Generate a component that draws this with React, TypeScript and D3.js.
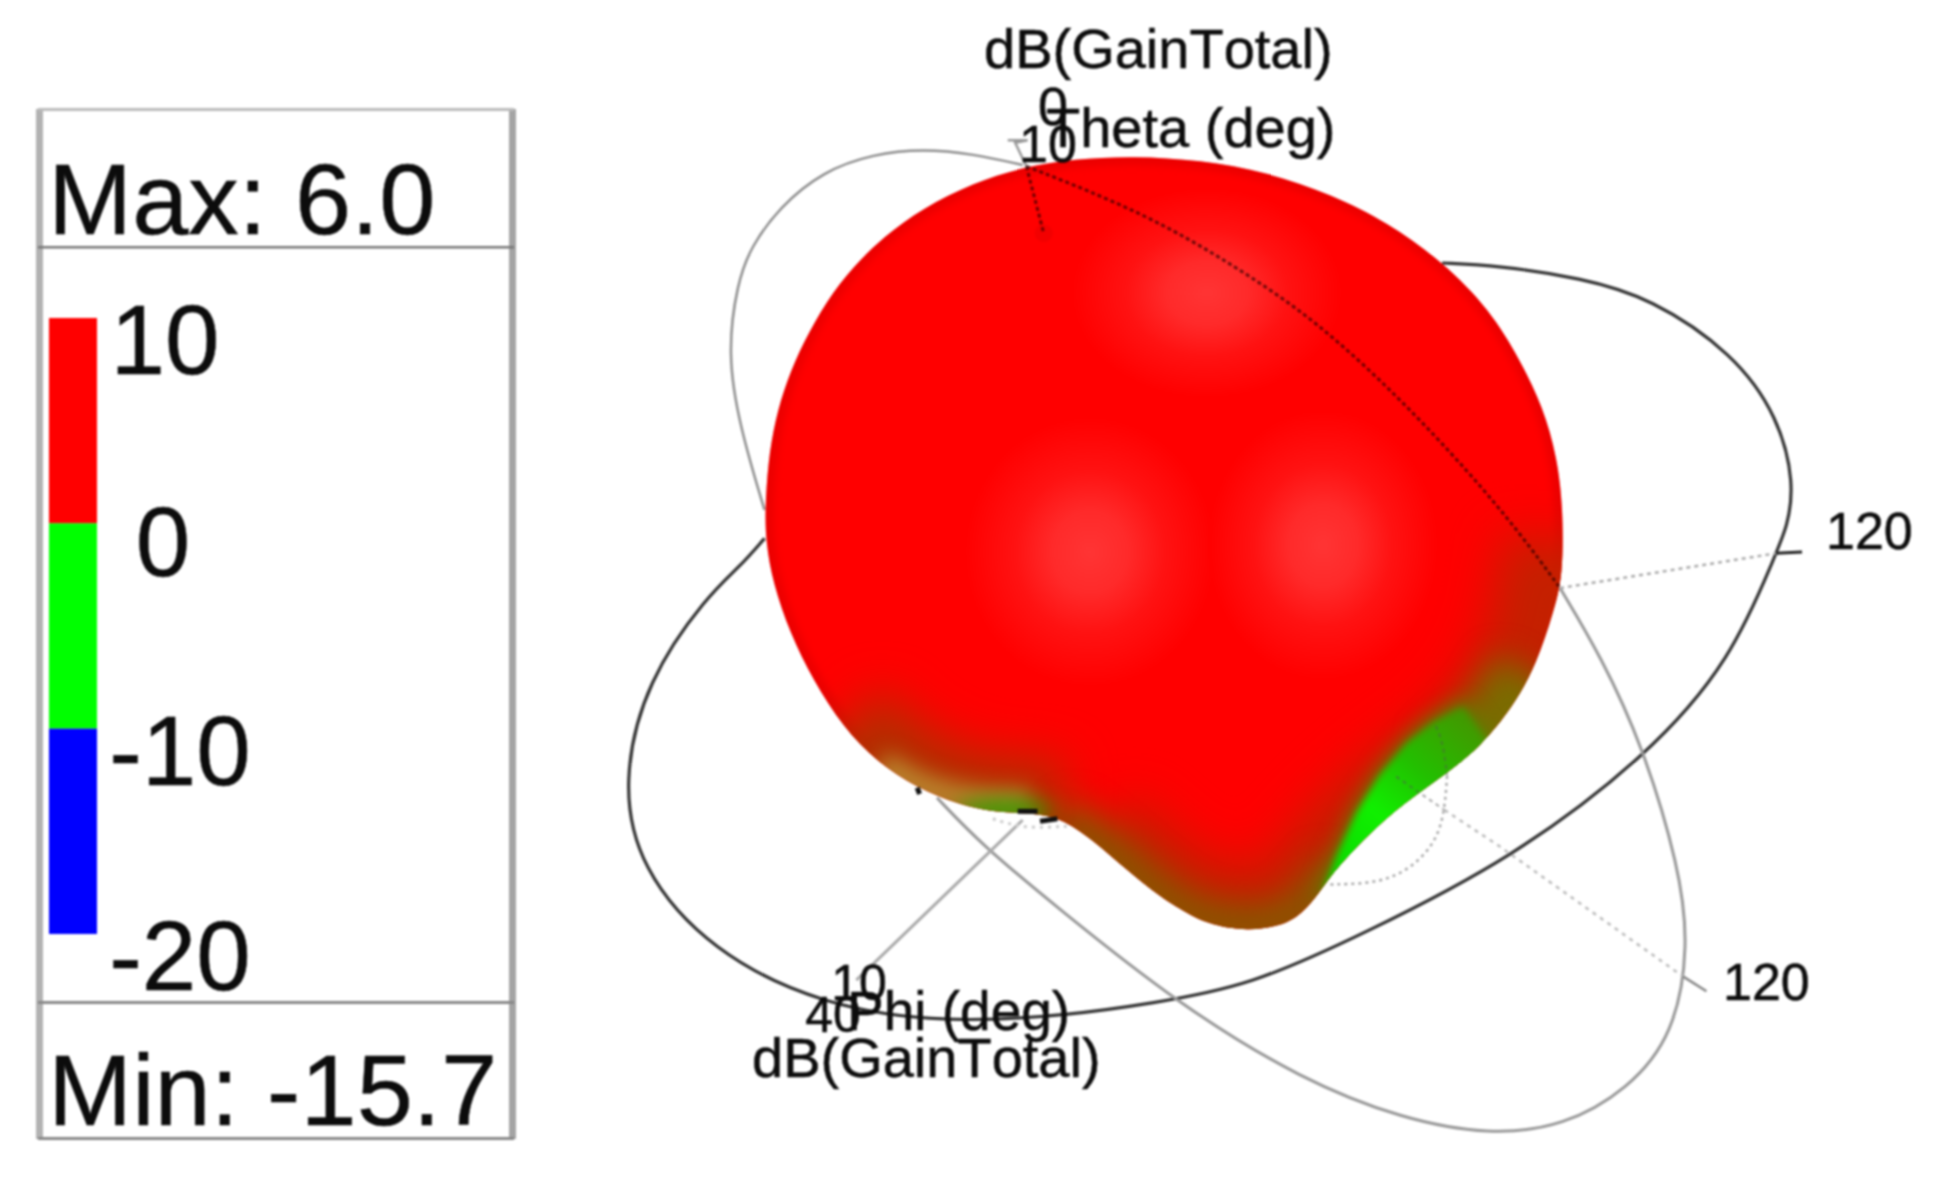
import React from "react";
import * as d3 from "d3";

const W = 1946, H = 1186;
// line series are traced in the 1568-wide picture units; surface series in image pixels
const x = d3.scaleLinear().domain([0, 1568]).range([0, W]);
const y = d3.scaleLinear().domain([0, 956]).range([0, H]);

const blobX = [1133,1200,1267,1333,1387,1443,1490,1520,1543,1557,1563,1563,1553,1537,1513,1480,1447,1413,1380,1337,1320,1302,1282,1247,1213,1193,1160,1127,1093,1060,1027,993,960,917,877,843,813,790,773,766,765,768,775,787,803,827,853,883,923,973,1023,1075];
const blobY = [156,160,172,195,222,262,310,360,407,457,507,577,613,663,707,747,773,797,823,867,892,914,926,931,925,917,897,870,840,817,813,812,805,788,762,727,680,633,583,543,510,463,420,380,343,300,267,237,208,183,167,159];

const phiRingX = [1162,1206,1274,1330,1397,1433,1446,1440,1431,1395,1328,1217,1100,1007,926,865,764,663,573,515,501,521,570,596,616];
const phiRingY = [212,214,224,240,285,336,390,425,446,532,609,693,752,795,809,818,825,811,767,700,630,548,480,457,434];
const thetaRingBackX = [824,784,744,704,663,628,605,594,586,596,616];
const thetaRingBackY = [133,124,120,124,138,167,199,228,285,344,411];
const thetaRingFrontX = [827,923,996,1060,1128,1184,1225,1257];
const thetaRingFrontY = [134,172,215,258,321,381,430,474];
const thetaRingLowX = [1257,1290,1324,1353,1361,1349,1312,1260,1200,1130,1050,950,850,790,755];
const thetaRingLowY = [474,529,602,699,762,834,878,908,915,902,871,810,730,680,643];
const phiAxisX = [824,690];
const phiAxisY = [661,790];
const arcX = [1072,1112,1139,1158,1164,1166];
const arcY = [713,712,699,677,653,626];
const arcTopX = [1166,1163,1156];
const arcTopY = [626,599,583];
const rightSpokeAX = [1257,1431];
const rightSpokeAY = [474,446];
const rightSpokeBX = [1164,1208,1356];
const rightSpokeBY = [653,682,787];
const spokeOnGreenX = [1125,1164];
const spokeOnGreenY = [626,653];
const tickAX = [1431,1452];
const tickAY = [446,445];
const tickBX = [1356,1375];
const tickBY = [787,799];
const zAxisX = [827,841];
const zAxisY = [134,188];
const zTickX = [812,828,818,827];
const zTickY = [113,113,115,134];
const hiddenDotsX = [800,825,860];
const hiddenDotsY = [660,668,666];
const speckX = [[820,836],[838,852],[739,741]];
const speckY = [[654,654],[662,660],[635,640]];

// surface shading, image pixels
const rimRightX = [1562,1553,1537,1513,1480,1447,1413,1380,1337,1320,1300,1280,1247,1213,1193,1160,1127,1093];
const rimRightY = [540,613,663,707,747,773,797,823,867,890,912,923,928,922,917,897,870,840];
const rimBottomX = [1337,1320,1300,1280,1247,1213,1193,1160,1127,1093,1060];
const rimBottomY = [867,890,912,923,928,922,917,897,870,840,817];
const rimOliveX = [1532,1513,1480,1447];
const rimOliveY = [675,707,747,773];
const rimLeftX = [843,877,917,960,993,1027,1060];
const rimLeftY = [727,762,788,805,812,813,817];
const rimTanX = [880,917,960,1000,1030];
const rimTanY = [765,788,800,804,804];
const glowX = [1207,1090,1323];
const glowY = [293,552,545];
const glowRx = [135,125,115];
const glowRy = [105,135,135];
const crescentX = [1322,1337,1357,1380,1407,1433,1463,1500,1450,1413,1380,1340];
const crescentY = [895,855,812,775,743,723,707,760,790,815,840,880];

const legendTicks = ["10","0","-10","-20"];
const legendStops = [10,0,-10,-20];
const legendColors = ["#ff0000","#00ff00","#0000ff"];
const legendTickPx = [165,163,180,180];
const legendBase = [374,576,785,990];

const pts = (a: number[], b: number[]) => a.map((v, i) => [x(v), y(b[i])] as [number, number]);
const raw = (a: number[], b: number[]) => a.map((v, i) => [v, b[i]] as [number, number]);
const smooth = d3.line().curve(d3.curveBasis);
const closed = d3.line().curve(d3.curveBasisClosed);
const polygon = d3.line().curve(d3.curveLinearClosed);
const straight = d3.line();

const FONT = "'Liberation Sans', Arial, sans-serif";

function Txt({ px, py, size, children, anchor = "start" }: any) {
  return <text x={px} y={py} fontSize={size} textAnchor={anchor} fill="#0c0c0c" stroke="#0c0c0c" strokeWidth={0.5}
    fontFamily={FONT} style={{ fontKerning: "none" }}>{children}</text>;
}

const Blur = ({ id, s }: { id: string; s: number }) => (
  <filter id={id} filterUnits="userSpaceOnUse" x={0} y={0} width={W} height={H} colorInterpolationFilters="sRGB"><feGaussianBlur stdDeviation={s} /></filter>
);

export default function App() {
  const legendY = d3.scaleLinear().domain([10, -20]).range([318, 934]);
  const blobPath = closed(raw(blobX, blobY)) as string;
  const gray = (d: string | null, stroke: string, w: number, dash?: string, op = 1) => (
    <path d={d as string} fill="none" stroke={stroke} strokeWidth={w} strokeDasharray={dash} strokeOpacity={op} />
  );
  return (
    <svg width={W} height={H} viewBox={`0 0 ${W} ${H}`} style={{ position: "absolute", left: 0, top: 0, background: "#fff" }}>
      <defs>
        <Blur id="soft" s={0.9} />
        <Blur id="b26" s={24} />
        <Blur id="b12" s={16} />
        <Blur id="b7" s={10} />
        <Blur id="b4" s={3.5} />
        <clipPath id="blobClip"><path d={blobPath} /></clipPath>
        <radialGradient id="glow">
          <stop offset="0" stopColor="#ff3434" />
          <stop offset="0.3" stopColor="#ff2a2a" />
          <stop offset="0.6" stopColor="#ff1212" />
          <stop offset="1" stopColor="#ff0000" />
        </radialGradient>
        <linearGradient id="crescent" gradientUnits="userSpaceOnUse" x1="1330" y1="880" x2="1480" y2="700">
          <stop offset="0" stopColor="#08d800" />
          <stop offset="0.35" stopColor="#10f000" />
          <stop offset="0.6" stopColor="#22c000" />
          <stop offset="1" stopColor="#4c8c00" />
        </linearGradient>
      </defs>
      <g filter="url(#soft)">
        <rect x={0} y={0} width={W} height={H} fill="#fff" />
        {/* legend */}
        <rect x={36} y={109} width={7} height={1030} fill="#b2b2b2" />
        <rect x={509} y={109} width={7} height={1030} fill="#a4a4a4" />
        <rect x={38} y={108} width={476} height={3} fill="#bbb" />
        <rect x={38} y={1137} width={476} height={3} fill="#888" />
        <rect x={38} y={246} width={476} height={2.5} fill="#777" />
        <rect x={38} y={1001} width={476} height={3} fill="#888" />
        {legendColors.map((c, i) => (
          <rect key={c} x={49} y={legendY(legendStops[i])} width={48} height={legendY(legendStops[i + 1]) - legendY(legendStops[i])} fill={c} />
        ))}
        <Txt px={48} py={234} size={101}>Max: 6.0</Txt>
        <Txt px={48} py={1125} size={101}>Min: -15.7</Txt>
        {legendTicks.map((t, i) => <Txt key={t} px={legendTickPx[i]} py={legendBase[i]} size={98} anchor="middle">{t}</Txt>)}

        {/* rings behind the surface */}
        {gray(smooth(pts(phiRingX, phiRingY)), "#333", 3.2)}
        {gray(smooth(pts(thetaRingBackX, thetaRingBackY)), "#8e8e8e", 2.5)}
        {gray(smooth(pts(thetaRingLowX, thetaRingLowY)), "#999", 3)}
        {gray(straight(pts(phiAxisX, phiAxisY)), "#aaa", 3)}
        {gray(smooth(pts(arcX, arcY)), "#aaa", 2.5, "3 4")}
        {gray(straight(pts(rightSpokeAX, rightSpokeAY)), "#aaa", 2.5, "4 4")}
        {gray(straight(pts(rightSpokeBX, rightSpokeBY)), "#bbb", 2.5, "4 5")}
        {gray(smooth(pts(hiddenDotsX, hiddenDotsY)), "#ccc", 3, "3 5")}
        {gray(straight(pts(tickAX, tickAY)), "#222", 3)}
        {gray(straight(pts(tickBX, tickBY)), "#888", 2.5)}
        {gray(straight(pts(zTickX, zTickY)), "#999", 2.5)}

        {/* radiation surface */}
        <path d={blobPath} fill="#ff0000" />
        <g clipPath="url(#blobClip)">
          <path d={blobPath} fill="none" stroke="#d00000" strokeWidth={16} strokeOpacity={0.4} filter="url(#b4)" />
          {glowX.map((v, i) => (
            <ellipse key={v} cx={v} cy={glowY[i]} rx={glowRx[i]} ry={glowRy[i]} fill="url(#glow)" />
          ))}
          <path d={smooth(raw(rimRightX, rimRightY)) as string} fill="none" stroke="#c42000" strokeWidth={120} filter="url(#b26)" />
          <path d={smooth(raw(rimLeftX, rimLeftY)) as string} fill="none" stroke="#b03000" strokeWidth={110} filter="url(#b26)" />
          <path d={smooth(raw(rimBottomX, rimBottomY)) as string} fill="none" stroke="#865800" strokeWidth={40} filter="url(#b12)" />
          <path d={smooth(raw(rimOliveX, rimOliveY)) as string} fill="none" stroke="#7a6c00" strokeWidth={80} filter="url(#b12)" />
          <path d={smooth(raw(rimTanX, rimTanY)) as string} fill="none" stroke="#b8822c" strokeWidth={30} filter="url(#b7)" />
          <path d={polygon(raw(crescentX, crescentY)) as string} fill="#5a8400" stroke="#5a8400" strokeWidth={8} filter="url(#b7)" />
          <path d={polygon(raw(crescentX, crescentY)) as string} fill="url(#crescent)" filter="url(#b4)" />
          <ellipse cx={1005} cy={810} rx={50} ry={10} fill="#2ea000" filter="url(#b7)" />
        </g>

        {/* lines in front of the surface */}
        {gray(smooth(pts(thetaRingFrontX, thetaRingFrontY)), "#300", 3, "4 3", 0.7)}
        {gray(straight(pts(zAxisX, zAxisY)), "#300", 3, "4 3", 0.7)}
        {gray(straight(pts(spokeOnGreenX, spokeOnGreenY)), "#555", 2, "4 4", 0.5)}
        {gray(smooth(pts(arcTopX, arcTopY)), "#555", 2, "4 4", 0.45)}
        <circle cx={x(zAxisX[1])} cy={y(zAxisY[1])} r={9} fill="#900" opacity={0.12} />
        {speckX.map((s, i) => <React.Fragment key={i}>{gray(straight(pts(s, speckY[i])), "#111", 5)}</React.Fragment>)}

        {/* axis text */}
        <Txt px={984} py={68} size={56}>dB(GainTotal)</Txt>
        <Txt px={1053} py={125} size={54} anchor="middle">0</Txt>
        <Txt px={1046} py={147} size={56}>Theta (deg)</Txt>
        <Txt px={1048} py={162} size={52} anchor="middle">10</Txt>
        <Txt px={1826} py={549} size={52}>120</Txt>
        <Txt px={1723} py={1000} size={52}>120</Txt>
        <Txt px={859} py={1000} size={50} anchor="middle">10</Txt>
        <Txt px={833} py={1032} size={50} anchor="middle">40</Txt>
        <Txt px={847} py={1030} size={55}>Phi (deg)</Txt>
        <Txt px={752} py={1077} size={56}>dB(GainTotal)</Txt>
      </g>
    </svg>
  );
}
